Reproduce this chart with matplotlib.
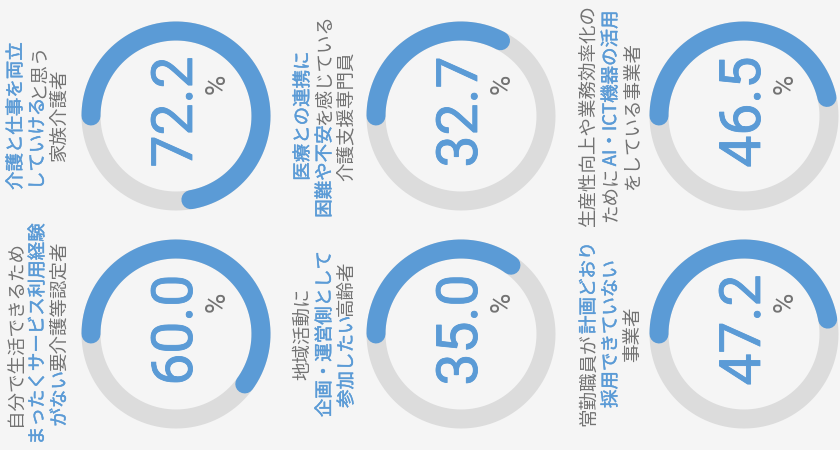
import matplotlib
matplotlib.use('Agg')
import matplotlib.pyplot as plt
import matplotlib.patheffects as pe
import numpy as np

# ---- data ----
values = [72.2, 32.7, 46.5, 60.0, 35.0, 47.2]
unit = "%"
# each label: list of lines, each line: list of (text, highlight?)
labels = [
    [[("介護と仕事を両立", True)], [("していける", True), ("と思う", False)], [("家族介護者", False)]],
    [[("医療との連携に", True)], [("困難や不安", True), ("を感じている", False)], [("介護支援専門員", False)]],
    [[("生産性向上や業務効率化の", False)], [("ために", False), ("AI・ICT機器の活用", True)], [("をしている事業者", False)]],
    [[("自分で生活できるため", False)], [("まったくサービス利用経験", True)], [("がない", True), ("要介護等認定者", False)]],
    [[("地域活動に", False)], [("企画・運営側として", True)], [("参加したい", True), ("高齢者", False)]],
    [[("常勤職員が", False), ("計画どおり", True)], [("採用できていない", True)], [("事業者", False)]],
]

# ---- style ----
BLUE = '#5b9bd6'
GREY_TXT = '#727272'
RING = '#dcdcdc'
BG = '#f5f5f5'
JP = ['Noto Sans CJK JP', 'DejaVu Sans']
NUM = ['Roboto', 'DejaVu Sans']

W, H = 840, 450
fig = plt.figure(figsize=(W / 100, H / 100), dpi=100)
fig.patch.set_facecolor(BG)

donut_cx = [176, 461, 744]
text_cx = [38, 325, 611]
row_cy = [116, 334]
line_gap = 22
R_AX = 100
R_RING = 85
RING_W = 19 * 72 / 100

for i, v in enumerate(values):
    r, c = divmod(i, 3)
    cx, cy = donut_cx[c], row_cy[r]
    pax = fig.add_axes([(cx - R_AX) / W, 1 - (cy + R_AX) / H, 2 * R_AX / W, 2 * R_AX / H],
                       projection='polar')
    pax.set_theta_zero_location('W')
    pax.set_theta_direction(-1)
    pax.set_ylim(0, R_AX)
    pax.axis('off')
    pax.patch.set_alpha(0)
    th = np.linspace(0, 2 * np.pi, 361)
    pax.plot(th, np.full_like(th, R_RING), color=RING, lw=RING_W, solid_capstyle='butt', clip_on=False)
    tb = np.linspace(0, v / 100 * 2 * np.pi, 300)
    pax.plot(tb, np.full_like(tb, R_RING), color=BLUE, lw=RING_W, solid_capstyle='round', clip_on=False)

ax = fig.add_axes([0, 0, 1, 1])
ax.set_xlim(0, W)
ax.set_ylim(H, 0)
ax.axis('off')
ax.patch.set_alpha(0)
renderer = fig.canvas.get_renderer()

LFS = 13.3
blue_fx = [pe.withStroke(linewidth=0.3, foreground=BLUE)]
num_fx = [pe.withStroke(linewidth=0.6, foreground=BLUE)]


def seg_width(s):
    t = ax.text(0, 0, s, fontsize=LFS, family=JP)
    w = t.get_window_extent(renderer).width
    t.remove()
    return w


for i, v in enumerate(values):
    r, c = divmod(i, 3)
    cx, cy = donut_cx[c], row_cy[r]
    ax.text(cx + 16, cy - 4, f"{v:.1f}", rotation=90, rotation_mode='anchor',
            ha='center', va='baseline', fontsize=41, color=BLUE, family=NUM,
            path_effects=num_fx)
    ax.text(cx + 49, cy - 32, unit, rotation=90, rotation_mode='anchor',
            ha='center', va='baseline', fontsize=20, color=GREY_TXT, family=NUM)
    lines = labels[i]
    for j, line in enumerate(lines):
        x = text_cx[c] + (j - 1) * line_gap
        widths = [seg_width(s) for s, hl in line]
        y = cy + sum(widths) / 2
        for (s, hl), w in zip(line, widths):
            ax.text(x, y, s, rotation=90, rotation_mode='anchor', ha='left', va='center',
                    fontsize=LFS, family=JP, color=BLUE if hl else GREY_TXT,
                    path_effects=blue_fx if hl else None)
            y -= w

fig.savefig('out.png', dpi=100, facecolor=BG)
